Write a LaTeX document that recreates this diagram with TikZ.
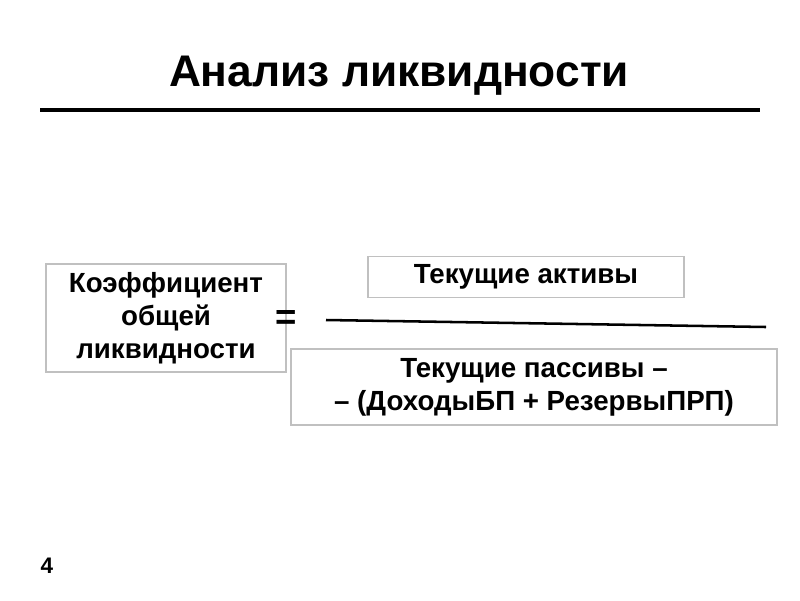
\documentclass[tikz,border=0pt]{standalone}
\usepackage{fontspec}
\setmainfont{Liberation Sans}
\usetikzlibrary{positioning}
\definecolor{boxgray}{RGB}{192,192,192}

\begin{document}
\begin{tikzpicture}[x=0.025cm,y=-0.025cm,
  box/.style={draw=boxgray,line width=1pt,inner sep=0pt,align=center,
              font=\fontsize{19.7}{23.5}\selectfont\bfseries}]
  \useasboundingbox (0,0) rectangle (800,600);
  % Title
  \node[font=\fontsize{31.5}{36}\selectfont\bfseries] (title) at (399,76) {Анализ ликвидности};
  \coordinate (ruleL) at (40,110);
  \coordinate (ruleR) at (760,110);
  \draw[line width=2.6pt] (ruleL) -- (ruleR);
  % Ratio
  \node[box,minimum width=6cm,minimum height=2.7cm] (coef) at (166,318)
    {Коэффициент\\общей\\ликвидности};
  \node[font=\fontsize{26}{30}\selectfont\bfseries] (eq) at (286,320) {=};
  \node[box,minimum width=7.9cm,minimum height=1.025cm] (num) at (526,277)
    {Текущие активы};
  \node[box,minimum width=12.15cm,minimum height=1.9cm] (den) at (534,387)
    {Текущие пассивы –\\– (ДоходыБП + РезервыПРП)};
  % Fraction bar
  \coordinate (barL) at (326,320);
  \coordinate (barR) at (766,327);
  \draw[line width=1.8pt] (barL) -- (barR);
  % Page number
  \node[font=\fontsize{16}{18}\selectfont\bfseries] (page) at (47,566) {4};
\end{tikzpicture}
\end{document}
